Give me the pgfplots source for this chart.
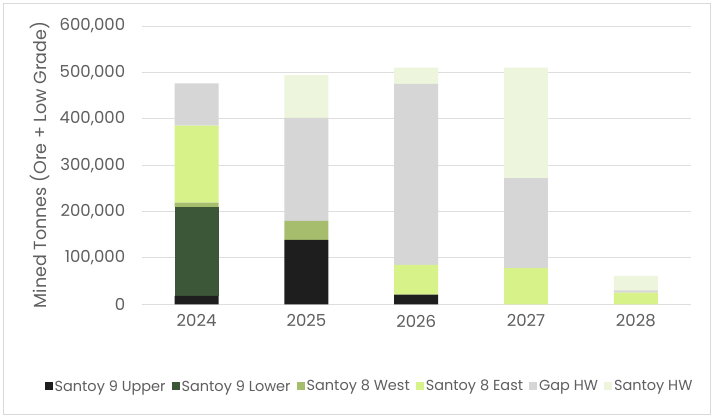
\documentclass[border=0pt]{standalone}
\usepackage{pgfplots}
\pgfplotsset{compat=1.18}
\usepackage{fontspec}
\setmainfont{Poppins}
\definecolor{txt}{HTML}{5F5F5F}
\definecolor{cA}{HTML}{1E1E1E}
\definecolor{cB}{HTML}{3C5638}
\definecolor{cC}{HTML}{A6BD6E}
\definecolor{cD}{HTML}{D8F28A}
\definecolor{cE}{HTML}{D6D6D6}
\definecolor{cF}{HTML}{EDF5DC}
\begin{document}
\begin{tikzpicture}[x=1pt,y=1pt]
\fill[white] (0,0) rectangle (717,420);
\draw[draw=black!15, line width=1pt] (3,5) rectangle (710,416);
\begin{axis}[
  at={(141.7pt,115.7pt)}, anchor=south west,
  scale only axis, width=549pt, height=278.4pt,
  ybar stacked, bar width=0.4,
  xmin=-0.5, xmax=4.5, ymin=0, ymax=600000,
  xtick={0,1,2,3,4}, xticklabels={2024,2025,2026,2027,2028},
  ytick={0,100000,...,600000},
  scaled y ticks=false,
  /pgf/number format/fixed,
  /pgf/number format/1000 sep={,},
  /pgf/number format/assume math mode=true,
  tick label style={font=\fontsize{16.5}{18}\selectfont, text=txt},
  yticklabel style={xshift=-13pt},
  xticklabel style={yshift=-7pt},
  ylabel={Mined Tonnes (Ore + Low Grade)},
  ylabel style={font=\fontsize{17.5}{18}\selectfont, text=txt, at={(axis description cs:-0.185,0.5)}, anchor=center},
  axis line style={draw=none},
  major tick length=0pt,
  ymajorgrids, grid style={draw=black!13, line width=0.8pt},
  legend style={at={(0.415,-0.295)}, anchor=center, draw=none, fill=none,
    font=\fontsize{14.5}{16}\selectfont, text=txt, legend columns=6,
    /tikz/every even column/.append style={column sep=4pt}},
  legend cell align=left,
  legend image code/.code={\fill[#1] (0pt,-4pt) rectangle (8pt,4pt);},
]
\addplot[fill=cA, draw=none] coordinates {(0,18000) (1,139000) (2,21000) (3,0) (4,0)};
\addplot[fill=cB, draw=none] coordinates {(0,192000) (1,0) (2,0) (3,0) (4,0)};
\addplot[fill=cC, draw=none] coordinates {(0,9000) (1,41000) (2,0) (3,0) (4,0)};
\addplot[fill=cD, draw=none] coordinates {(0,166000) (1,0) (2,64000) (3,78000) (4,25000)};
\addplot[fill=cE, draw=none] coordinates {(0,91000) (1,222000) (2,390000) (3,194000) (4,5000)};
\addplot[fill=cF, draw=none] coordinates {(0,0) (1,92000) (2,35000) (3,238000) (4,31000)};
\legend{Santoy 9 Upper, Santoy 9 Lower, Santoy 8 West, Santoy 8 East, Gap HW, Santoy HW}
\end{axis}
\end{tikzpicture}
\end{document}
